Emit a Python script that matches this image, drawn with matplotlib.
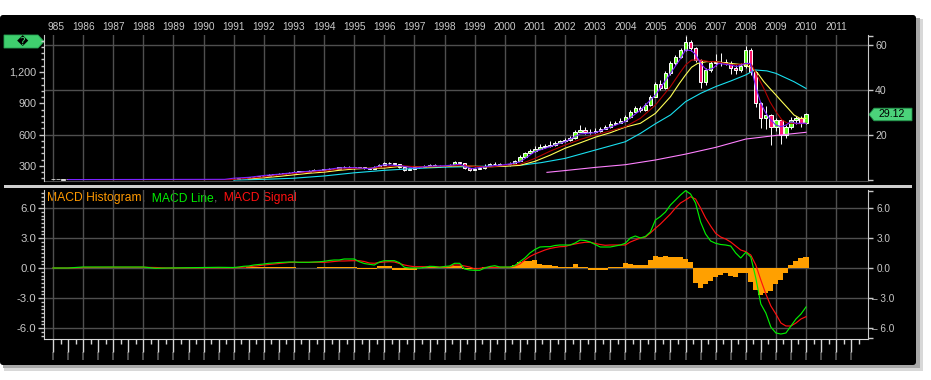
import numpy as np
import matplotlib
matplotlib.use("Agg")
import matplotlib.pyplot as plt
from matplotlib.patches import Rectangle, Polygon, FancyBboxPatch
from matplotlib.ticker import MultipleLocator
from matplotlib.transforms import blended_transform_factory

plt.rcParams['font.family'] = ['Liberation Sans', 'DejaVu Sans']

# ---------------- data ----------------
years = list(range(1985, 2012))
year_labels = ["985"] + [str(y) for y in range(1986, 2012)]

left_ticks = [300, 600, 900, 1200]
left_labels = ["300", "600", "900", "1,200"]
price_ticks = [20, 40, 60]
macd_ticks = [-6, -3, 0, 3, 6]
macd_left_labels = ["-6.0", "-3.0", "0.0", "3.0", "6.0"]
macd_right_labels = ["\u2013 6.0", "\u2013 3.0", "0.0", "3.0", "6.0"]

# bimonthly candles, 1991 -> 2010
bar_start = 1991.0
bars_per_year = 6
first_open = 0.5
closes = [
    0.6, 0.8, 1.0, 1.2, 1.5, 1.8,        # 1991
    2.0, 2.3, 2.6, 2.8, 3.0, 3.2,        # 1992
    3.5, 3.8, 3.7, 4.1, 4.4, 4.3,        # 1993
    4.8, 5.1, 5.0, 5.6, 5.9, 5.7,        # 1994
    5.4, 5.6, 5.2, 5.0, 5.8, 6.8,        # 1995
    7.4, 7.6, 7.0, 5.6, 4.5, 5.0,        # 1996
    5.6, 5.9, 6.2, 6.6, 6.4, 6.2,        # 1997
    6.3, 6.8, 7.8, 7.4, 5.2, 4.5,        # 1998
    5.0, 5.3, 6.4, 7.0, 7.2, 6.8,        # 1999
    6.6, 7.2, 8.5, 10.4, 11.8, 12.8,     # 2000
    14.0, 14.5, 15.0, 15.6, 16.5, 17.2,  # 2001
    17.8, 18.6, 21.5, 22.4, 21.2, 21.5,  # 2002
    21.8, 22.8, 23.5, 24.8, 25.5, 26.4,  # 2003
    27.9, 30.4, 31.9, 31.2, 33.5, 37.0,  # 2004
    42.5, 41.0, 47.4, 51.8, 54.8, 57.8,  # 2005
    61.5, 58.5, 53.3, 43.7, 48.9, 51.8,  # 2006
    52.6, 52.6, 52.2, 49.6, 49.0, 50.5,  # 2007
    57.8, 48.1, 34.1, 27.4, 29.0, 23.7,  # 2008
    26.7, 20.0, 23.7, 26.7, 27.5, 25.3,  # 2009
    29.12]
highs = [
    0.8, 1.0, 1.2, 1.4, 1.7, 2.0,
    2.2, 2.5, 2.8, 3.0, 3.2, 3.5,
    3.8, 4.1, 4.0, 4.4, 4.7, 4.6,
    5.1, 5.4, 5.3, 5.9, 6.3, 6.1,
    5.9, 5.9, 5.7, 5.4, 6.1, 7.2,
    7.8, 8.1, 7.7, 7.1, 5.9, 5.4,
    5.9, 6.3, 6.6, 7.0, 6.9, 6.7,
    6.7, 7.1, 8.3, 8.1, 7.5, 5.4,
    5.5, 5.8, 6.9, 7.6, 7.8, 7.4,
    7.1, 7.8, 8.9, 10.9, 12.4, 13.6,
    14.9, 15.8, 16.2, 17.3, 17.4, 18.0,
    18.5, 19.6, 22.3, 24.5, 23.4, 22.6,
    22.9, 23.6, 24.5, 26.2, 26.4, 27.4,
    28.7, 31.0, 32.8, 32.8, 34.3, 37.8,
    43.5, 44.5, 48.3, 52.7, 55.6, 58.8,
    63.8, 62.4, 59.0, 53.6, 49.8, 52.7,
    55.8, 56.5, 53.6, 53.0, 51.1, 52.0,
    59.5, 58.5, 48.5, 34.8, 33.0, 29.5,
    27.6, 27.0, 24.6, 28.0, 28.5, 28.3,
    29.8]
lows = [
    0.4, 0.5, 0.7, 0.9, 1.1, 1.4,
    1.7, 1.9, 2.2, 2.5, 2.7, 2.9,
    3.1, 3.4, 3.4, 3.6, 4.0, 4.0,
    4.2, 4.6, 4.7, 4.9, 5.4, 5.3,
    5.1, 5.2, 4.9, 4.7, 4.9, 5.7,
    6.7, 7.1, 6.6, 5.3, 3.8, 4.3,
    4.8, 5.4, 5.7, 6.0, 6.0, 5.8,
    5.9, 6.1, 6.6, 7.0, 4.9, 3.9,
    4.3, 4.8, 5.1, 6.2, 6.7, 6.4,
    6.1, 6.4, 7.0, 8.3, 10.0, 11.5,
    12.5, 13.6, 14.3, 14.6, 15.3, 16.3,
    16.9, 17.5, 18.2, 21.2, 20.3, 20.6,
    21.0, 21.4, 22.6, 23.3, 24.6, 25.3,
    26.1, 27.5, 30.1, 30.3, 30.6, 33.0,
    36.8, 40.0, 40.5, 46.8, 51.0, 54.0,
    57.2, 57.5, 52.5, 41.0, 42.0, 48.0,
    50.6, 50.8, 50.9, 47.2, 47.0, 48.0,
    49.8, 46.5, 32.5, 23.0, 22.5, 15.5,
    21.8, 15.8, 18.5, 22.5, 25.0, 23.4,
    25.0]

# sparse early prints
early_t = [1985.0, 1985.17, 1985.33, 1985.5, 1986.17, 1986.33, 1990.33, 1990.5, 1990.67, 1990.83]
early_px = [0.3, 0.3, 0.2, 0.3, 0.4, 0.4, 0.4, 0.4, 0.5, 0.5]

# moving averages
purple_t = [1985.5, 1986.0, 1990.7, 1991.0, 1991.5, 1992.0, 1992.5, 1993.0, 1993.5, 1994.0, 1994.5,
            1995.0, 1995.5, 1996.0, 1996.5, 1997.0, 1997.5, 1998.0, 1998.5, 1998.9, 1999.5,
            2000.0, 2000.5, 2001.0, 2001.5, 2002.0, 2002.5, 2003.0, 2003.5, 2004.0, 2004.5,
            2005.0, 2005.5, 2005.8, 2006.0, 2006.2, 2006.35, 2006.5, 2006.7, 2006.9, 2007.1,
            2007.5, 2007.7, 2008.0, 2008.15, 2008.33, 2008.5, 2008.67, 2008.83, 2009.0,
            2009.17, 2009.33, 2009.5, 2009.67, 2010.0]
purple_v = [0.2, 0.2, 0.3, 0.8, 1.2, 2.0, 2.6, 3.3, 3.9, 4.5, 5.4,
            5.5, 5.0, 6.8, 6.4, 5.3, 6.2, 6.3, 7.0, 5.0, 6.2,
            6.8, 8.0, 12.6, 14.8, 17.0, 20.5, 21.0, 23.5, 26.0, 31.0,
            37.8, 47.4, 53.3, 57.8, 57.5, 55.5, 51.8, 48.9, 49.6, 51.8,
            51.1, 50.4, 51.8, 51.8, 41.5, 34.1, 29.6, 26.7, 24.4,
            23.7, 24.4, 25.9, 25.2, 25.2]
red_t = [1986.5, 1990.9, 1991.5, 1992.0, 1992.5, 1993.0, 1993.5, 1994.0, 1994.5, 1995.0, 1995.5,
         1996.0, 1996.5, 1997.0, 1997.5, 1998.0, 1998.5, 1999.0, 1999.5, 2000.0, 2000.5,
         2001.0, 2001.5, 2002.0, 2002.5, 2003.0, 2003.5, 2004.0, 2004.5, 2005.0, 2005.5,
         2005.8, 2006.0, 2006.2, 2006.5, 2006.8, 2007.0, 2007.3, 2007.6, 2008.0, 2008.2,
         2008.4, 2008.6, 2008.8, 2009.0, 2009.2, 2009.4, 2009.6, 2009.8, 2010.0]
red_v = [0.2, 0.2, 0.8, 1.4, 2.2, 2.9, 3.5, 4.0, 4.9, 5.2, 5.2,
         5.8, 6.4, 5.9, 5.9, 6.2, 6.5, 6.0, 5.8, 6.5, 7.0,
         9.6, 12.8, 15.5, 18.0, 20.0, 21.8, 23.7, 27.4, 33.3, 41.5,
         47.4, 51.1, 53.3, 53.3, 52.6, 52.6, 51.8, 51.1, 51.8, 51.1,
         45.9, 40.7, 34.8, 30.4, 26.7, 25.2, 25.2, 25.0, 25.2]
yellow_t = [1991.5, 1992.0, 1992.5, 1993.0, 1993.5, 1994.0, 1994.5, 1995.0, 1995.5, 1996.0,
            1996.5, 1997.0, 1997.5, 1998.0, 1998.5, 1999.0, 1999.5, 2000.0, 2000.5, 2001.0,
            2001.5, 2002.0, 2002.5, 2003.0, 2003.5, 2004.0, 2004.5, 2005.0, 2005.5, 2005.8,
            2006.0, 2006.2, 2006.4, 2006.7, 2007.0, 2007.5, 2008.0, 2008.2, 2008.4, 2008.6,
            2008.8, 2009.0, 2009.2, 2009.4, 2009.6, 2009.8, 2010.0]
yellow_v = [0.5, 1.0, 1.6, 2.3, 3.0, 3.5, 4.3, 4.9, 5.2, 5.3,
            6.0, 6.0, 5.7, 6.0, 6.3, 6.1, 5.9, 6.1, 6.5, 8.3,
            11.0, 14.1, 16.5, 19.0, 21.0, 23.5, 25.2, 29.6, 37.0, 43.0,
            46.7, 50.1, 51.8, 52.6, 52.6, 51.8, 51.1, 49.6, 47.4, 43.7,
            40.7, 37.8, 34.8, 31.9, 28.9, 27.4, 27.4]
cyan_t = [1991.0, 1992.0, 1993.0, 1994.0, 1995.0, 1996.0, 1997.0, 1998.0, 1999.0, 2000.0,
          2000.6, 2001.2, 2002.0, 2003.0, 2004.0, 2004.5, 2005.0, 2005.5, 2006.0, 2006.5,
          2007.0, 2007.5, 2008.0, 2008.3, 2008.7, 2009.0, 2009.6, 2010.0]
cyan_v = [0.0, 0.3, 0.8, 1.8, 3.2, 4.3, 5.1, 5.7, 6.0, 6.3,
          6.7, 7.7, 9.6, 13.3, 17.0, 20.7, 25.0, 28.9, 34.8, 38.5,
          41.5, 44.0, 46.7, 48.9, 48.5, 47.4, 43.7, 40.7]
pink_t = [2001.4, 2002.0, 2003.0, 2004.0, 2005.0, 2006.0, 2007.0, 2008.0, 2009.0, 2010.0]
pink_v = [3.4, 4.2, 5.6, 6.8, 8.9, 11.5, 14.5, 18.2, 19.8, 21.2]

# MACD (same bimonthly steps as the candles)
macd_line = [
    0.05, 0.1, 0.17, 0.2, 0.3, 0.35,
    0.4, 0.47, 0.5, 0.55, 0.57, 0.6,
    0.6, 0.57, 0.57, 0.57, 0.6, 0.62,
    0.67, 0.75, 0.8, 0.8, 0.9, 0.9,
    0.9, 0.63, 0.45, 0.37, 0.3, 0.6,
    0.73, 0.73, 0.73, 0.53, 0.07, 0.0,
    0.0, 0.0, 0.05, 0.17, 0.15, 0.07,
    0.15, 0.2, 0.47, 0.47, -0.1, -0.2,
    -0.23, -0.23, 0.0, 0.15, 0.23, 0.1,
    0.1, 0.1, 0.25, 0.63, 1.0, 1.5,
    1.85, 2.1, 2.13, 2.13, 2.25, 2.3,
    2.3, 2.3, 2.5, 2.8, 2.75, 2.6,
    2.35, 2.1, 2.1, 2.1, 2.2, 2.3,
    2.47, 3.0, 3.2, 3.0, 3.15, 3.6,
    4.8, 5.15, 5.6, 6.3, 6.8, 7.3,
    7.73, 7.4, 6.5, 4.6, 3.4, 2.7,
    2.47, 2.35, 2.3, 2.2, 1.5, 1.0,
    1.57, 1.1, -1.0, -3.6, -4.5, -5.9,
    -6.5, -6.6, -6.5, -5.8, -5.1, -4.6,
    -3.9]
macd_signal = [
    0.03, 0.05, 0.08, 0.12, 0.18, 0.23,
    0.3, 0.35, 0.4, 0.45, 0.5, 0.55,
    0.57, 0.57, 0.57, 0.57, 0.57, 0.57,
    0.57, 0.6, 0.65, 0.7, 0.7, 0.72,
    0.73, 0.73, 0.65, 0.5, 0.47, 0.55,
    0.6, 0.63, 0.6, 0.45, 0.3, 0.2,
    0.13, 0.13, 0.13, 0.13, 0.13, 0.1,
    0.1, 0.15, 0.3, 0.3, 0.2, 0.1,
    -0.1, -0.05, 0.05, 0.07, 0.07, 0.07,
    0.07, 0.07, 0.2, 0.4, 0.8, 1.15,
    1.4, 1.6, 1.8, 1.95, 2.05, 2.13,
    2.15, 2.3, 2.4, 2.5, 2.57, 2.57,
    2.45, 2.35, 2.27, 2.3, 2.3, 2.3,
    2.3, 2.6, 2.8, 3.0, 3.1, 3.5,
    3.97, 4.4, 4.9, 5.4, 6.0, 6.5,
    6.8, 7.13, 6.9, 6.0, 5.0, 4.2,
    3.47, 3.1, 2.9, 2.6, 2.2, 1.8,
    1.63, 1.3, 0.3, -1.2, -2.6, -3.8,
    -4.6, -5.5, -5.8, -5.8, -5.5, -5.1,
    -4.87]
macd_hist = [
    0.02, 0.03, 0.05, 0.07, 0.07, 0.07,
    0.07, 0.07, 0.07, 0.07, 0.07, 0.07,
    0.07, 0.05, 0.03, 0.03, 0.05, 0.1,
    0.1, 0.1, 0.1, 0.1, 0.1, 0.1,
    0.1, -0.13, -0.13, -0.13, -0.13, 0.2,
    0.2, 0.2, -0.2, -0.2, -0.2, -0.2,
    -0.2, 0.0, 0.07, 0.07, 0.07, 0.07,
    0.07, 0.2, 0.2, 0.2, -0.13, -0.13,
    -0.13, 0.0, 0.07, 0.07, 0.07, 0.07,
    0.07, 0.07, 0.3, 0.6, 0.7, 0.75,
    0.8, 0.4, 0.3, 0.3, 0.2, 0.1,
    0.1, 0.1, 0.37, 0.1, 0.07, -0.2,
    -0.2, -0.15, -0.15, 0.07, 0.07, 0.1,
    0.47, 0.4, 0.3, 0.3, 0.35, 0.8,
    1.2, 1.15, 1.2, 1.1, 1.15, 1.1,
    0.9, 0.6, -1.5, -2.0, -1.6, -1.3,
    -0.9, -0.7, -0.45, -0.75, -0.85, -0.5,
    -0.45, -1.4, -2.2, -2.7, -2.5, -2.3,
    -1.6, -1.2, -0.5, 0.3, 0.7, 1.0,
    1.07]
early_macd_t = [1985.0, 1985.5, 1986.0, 1987.0, 1988.0, 1988.4, 1988.8, 1990.5]
early_macd = [0.0, 0.0, 0.1, 0.1, 0.1, -0.03, 0.0, 0.07]
early_signal = [0.0, 0.0, 0.05, 0.07, 0.07, 0.05, 0.0, 0.03]

legend_parts = [("MACD Histogram", "#ff9900"), (",", "#808080"),
                ("  MACD Line", "#00ee00"), (",", "#808080"),
                ("  MACD Signal", "#ff1010")]

# ---------------- style ----------------
W, H = 931, 380
GRID = "#4f4f4f"
TXT = "#c8c8c8"
UP, DOWN = "#66ff22", "#ff1a6e"
X0 = 1985 - 9 / 30.12
X1 = 1985 + 815 / 30.12

fig = plt.figure(figsize=(W / 100, H / 100), dpi=100, facecolor="white")


def px_axes(x0, y0, x1, y1):
    return fig.add_axes([x0 / W, 1 - y1 / H, (x1 - x0) / W, (y1 - y0) / H])


bg = px_axes(0, 0, W, H)
bg.set_xlim(0, W)
bg.set_ylim(H, 0)
bg.axis("off")
bg.add_patch(Rectangle((4, 19), 919, 352, fc="#d8d8d8", ec="none"))
bg.add_patch(Rectangle((3, 18), 917, 350, fc="#a8a8a8", ec="none"))
bg.add_patch(FancyBboxPatch((0, 15), 916, 350, boxstyle="round,pad=0,rounding_size=3",
                            fc="black", ec="none"))
bg.add_patch(Rectangle((4, 184.5), 908, 3.5, fc="#cfcfcf", ec="none"))

# ---------------- upper: price ----------------
ax1 = px_axes(44, 35, 868, 181)
axL = ax1.twinx()
ax1.set_facecolor("none")
ax1.set_xlim(X0, X1)
ax1.set_ylim(-0.44, 64.44)
axL.set_ylim(156, 1554)

for y in years:
    ax1.axvline(y, color=GRID, lw=1, zorder=0)
for v in price_ticks:
    ax1.axhline(v, color=GRID, lw=1, zorder=0)

bar_t = bar_start + np.arange(len(closes)) / bars_per_year
c = np.array(closes)
o = np.r_[first_open, c[:-1]]
up = c >= o
ax1.vlines(bar_t, lows, highs, color="white", lw=0.7, zorder=3)
ax1.bar(bar_t[up], (c - o)[up], bottom=o[up], width=0.11, color=UP,
        edgecolor="white", linewidth=0.7, zorder=4)
ax1.bar(bar_t[~up], (c - o)[~up], bottom=o[~up], width=0.11, color=DOWN,
        edgecolor="white", linewidth=0.7, zorder=4)
ax1.bar(early_t, 0.15, bottom=early_px, width=0.11, color="white",
        edgecolor="white", linewidth=0.5, zorder=4)

ax1.plot(pink_t, pink_v, color="#ff80ff", lw=0.8, zorder=5)
ax1.plot(cyan_t, cyan_v, color="#19e0f0", lw=0.8, zorder=5)
ax1.plot(yellow_t, yellow_v, color="#ffff55", lw=0.8, zorder=5)
ax1.plot(red_t, red_v, color="#b00000", lw=0.8, zorder=5)
ax1.plot(purple_t, purple_v, color="#7a22ff", lw=0.8, zorder=6)

ax1.yaxis.tick_right()
ax1.set_yticks(price_ticks)
ax1.set_yticks([0, 64.2], minor=True)
ax1.tick_params(axis="y", which="both", colors=TXT, labelsize=7.6, length=3.6, width=1, pad=1.5)
ax1.set_xticks([])
for s in ["top", "left"]:
    ax1.spines[s].set_visible(False)
ax1.spines["right"].set_color(TXT)
ax1.spines["bottom"].set_color(GRID)

axL.yaxis.tick_left()
axL.set_yticks(left_ticks)
axL.set_yticklabels(left_labels)
axL.yaxis.set_minor_locator(MultipleLocator(60))
axL.tick_params(axis="y", which="major", colors=TXT, labelsize=7.8, length=3.6, width=1, pad=1.7)
axL.tick_params(axis="y", which="minor", colors=TXT, length=2.2, width=1)
for s in ["top", "right", "bottom"]:
    axL.spines[s].set_visible(False)
axL.spines["left"].set_color(TXT)

# year labels along the top
ytr = blended_transform_factory(ax1.transData, bg.transData)
for y, lab in zip(years, year_labels):
    bg.text(y + (0.1 if lab == "985" else 0), 30.5, lab, transform=ytr, ha="center",
            va="baseline", color=TXT, fontsize=7.3)

# ---------------- lower: MACD ----------------
ax2 = px_axes(44, 190, 868, 339)
ax2r = ax2.twinx()
ax2.set_facecolor("none")
ax2.set_xlim(X0, X1)
ax2.set_ylim(-7.1, 7.8)
ax2r.set_ylim(-7.1, 7.8)

for y in years:
    ax2.axvline(y, color=GRID, lw=1, zorder=0)
for v in macd_ticks:
    ax2.axhline(v, color=GRID, lw=1, zorder=0)

ax2.bar(bar_t, macd_hist, width=1 / bars_per_year, color="#ffa000", linewidth=0, zorder=2)
ax2.plot(early_macd_t + list(bar_t), early_signal + macd_signal, color="#ff1010", lw=0.85, zorder=3)
ax2.plot(early_macd_t + list(bar_t), early_macd + macd_line, color="#00ee00", lw=0.85, zorder=4)

ax2.yaxis.tick_left()
ax2.set_yticks(macd_ticks)
ax2.set_yticklabels(macd_left_labels)
ax2.yaxis.set_minor_locator(MultipleLocator(0.375))
ax2.tick_params(axis="y", which="major", colors=TXT, labelsize=8.2, length=4.3, width=1, pad=1.5)
ax2.tick_params(axis="y", which="minor", colors=TXT, length=2.2, width=1)
ax2.set_xticks(np.arange(1985, 2011.6, 0.5))
ax2.set_xticks(np.arange(1985.25, 2011.8, 0.5), minor=True)
ax2.tick_params(axis="x", which="major", colors="#d8d8d8", length=9.4, width=1, labelbottom=False)
ax2.tick_params(axis="x", which="minor", colors="#d8d8d8", length=3.6, width=1)
ax2.spines["top"].set_visible(False)
ax2.spines["right"].set_visible(False)
ax2.spines["left"].set_color(TXT)
ax2.spines["bottom"].set_color("#d8d8d8")

ax2r.yaxis.tick_right()
ax2r.set_yticks(macd_ticks)
ax2r.set_yticklabels(macd_right_labels)
ax2r.set_yticks([-7.0, 7.75], minor=True)
ax2r.tick_params(axis="y", which="both", colors=TXT, labelsize=7.2, length=3.6, width=1, pad=7.5)
for lab in ax2r.get_yticklabels():
    lab.set_horizontalalignment("center")
for s in ["top", "left", "bottom"]:
    ax2r.spines[s].set_visible(False)
ax2r.spines["right"].set_color(TXT)

# grey stubs under the long ticks
btr = blended_transform_factory(ax2.transData, bg.transData)
bg.vlines(np.arange(1985, 2011.6, 0.5), 352, 360, transform=btr, color="#5c5c5c", lw=1.2)

# legend text
r = fig.canvas.get_renderer()
x = 47
for s, col in legend_parts:
    t = bg.text(x, 201.5, s, color=col, fontsize=8.7, ha="left", va="baseline")
    x += t.get_window_extent(renderer=r).width

# ---------------- tags ----------------
fig.canvas.draw()
ty = H - ax1.transData.transform((X1, closes[-1]))[1]
bg.add_patch(Polygon([(869, ty), (874, ty - 6.3), (912, ty - 6.3), (912, ty + 6.3), (874, ty + 6.3)],
                     closed=True, fc="#4bd37a", ec="#1f8f47", lw=0.6, zorder=10))
bg.text(892, ty, "%.2f" % closes[-1], ha="center", va="center", color="black", fontsize=7.6, zorder=11)

bg.add_patch(Polygon([(4, 35), (38, 35), (44, 41.5), (38, 48), (4, 48)], closed=True,
                     fc="#3fcf6e", ec="#24a050", lw=0.6, zorder=10))
bg.text(23, 41.7, "\ufffd", ha="center", va="center", color="black", fontsize=8,
        family="DejaVu Sans", zorder=11)

fig.savefig("out.png", dpi=100, facecolor="white")
